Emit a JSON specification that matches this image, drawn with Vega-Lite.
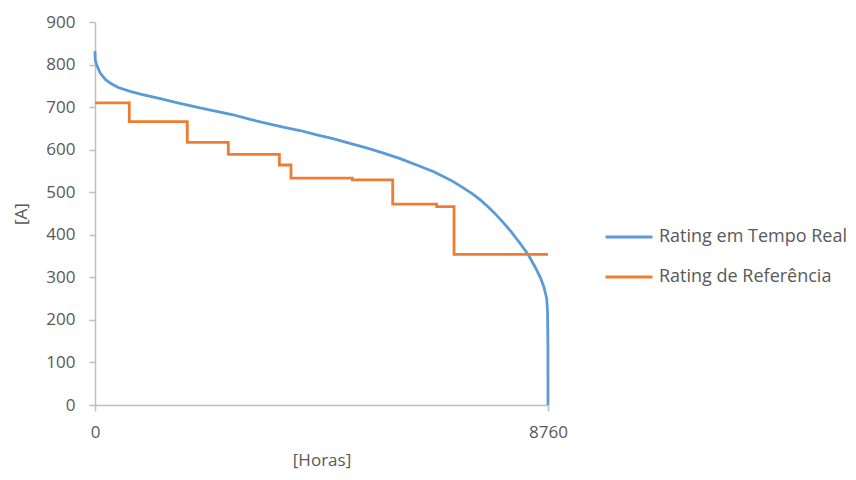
{
  "$schema": "https://vega.github.io/schema/vega-lite/v6.json",
  "width": 453,
  "height": 383,
  "autosize": {"type": "none"},
  "padding": {"left": 95, "top": 22, "right": 308, "bottom": 75},
  "background": "white",
  "config": {
    "view": {"stroke": null},
    "font": "Open Sans",
    "axis": {
      "labelFont": "Open Sans",
      "titleFont": "Open Sans",
      "labelColor": "#595959",
      "titleColor": "#595959",
      "labelFontSize": 17,
      "titleFontSize": 17,
      "titleFontWeight": "normal",
      "domainColor": "#bfbfbf",
      "tickColor": "#bfbfbf",
      "domainWidth": 1.5,
      "tickWidth": 1.5,
      "tickSize": 6,
      "grid": false
    },
    "legend": {
      "labelFont": "Open Sans",
      "labelFontSize": 18,
      "labelColor": "#595959",
      "labelLimit": 400
    }
  },
  "layer": [
    {
      "data": {
        "values": [
          {"hour": 0, "value": 832, "series": "Rating em Tempo Real"},
          {"hour": 5, "value": 810, "series": "Rating em Tempo Real"},
          {"hour": 30, "value": 800, "series": "Rating em Tempo Real"},
          {"hour": 100, "value": 780, "series": "Rating em Tempo Real"},
          {"hour": 200, "value": 765, "series": "Rating em Tempo Real"},
          {"hour": 300, "value": 756, "series": "Rating em Tempo Real"},
          {"hour": 450, "value": 746, "series": "Rating em Tempo Real"},
          {"hour": 680, "value": 737, "series": "Rating em Tempo Real"},
          {"hour": 900, "value": 730, "series": "Rating em Tempo Real"},
          {"hour": 1260, "value": 720, "series": "Rating em Tempo Real"},
          {"hour": 1600, "value": 710, "series": "Rating em Tempo Real"},
          {"hour": 2030, "value": 698, "series": "Rating em Tempo Real"},
          {"hour": 2670, "value": 682, "series": "Rating em Tempo Real"},
          {"hour": 3000, "value": 671, "series": "Rating em Tempo Real"},
          {"hour": 3320, "value": 662, "series": "Rating em Tempo Real"},
          {"hour": 3640, "value": 653, "series": "Rating em Tempo Real"},
          {"hour": 3965, "value": 645, "series": "Rating em Tempo Real"},
          {"hour": 4290, "value": 635, "series": "Rating em Tempo Real"},
          {"hour": 4600, "value": 626, "series": "Rating em Tempo Real"},
          {"hour": 4930, "value": 615, "series": "Rating em Tempo Real"},
          {"hour": 5250, "value": 604, "series": "Rating em Tempo Real"},
          {"hour": 5580, "value": 592, "series": "Rating em Tempo Real"},
          {"hour": 5900, "value": 579, "series": "Rating em Tempo Real"},
          {"hour": 6220, "value": 564, "series": "Rating em Tempo Real"},
          {"hour": 6550, "value": 548, "series": "Rating em Tempo Real"},
          {"hour": 6870, "value": 529, "series": "Rating em Tempo Real"},
          {"hour": 7100, "value": 512, "series": "Rating em Tempo Real"},
          {"hour": 7300, "value": 496, "series": "Rating em Tempo Real"},
          {"hour": 7450, "value": 482, "series": "Rating em Tempo Real"},
          {"hour": 7600, "value": 466, "series": "Rating em Tempo Real"},
          {"hour": 7750, "value": 448, "series": "Rating em Tempo Real"},
          {"hour": 7900, "value": 428, "series": "Rating em Tempo Real"},
          {"hour": 8050, "value": 407, "series": "Rating em Tempo Real"},
          {"hour": 8200, "value": 383, "series": "Rating em Tempo Real"},
          {"hour": 8380, "value": 353, "series": "Rating em Tempo Real"},
          {"hour": 8520, "value": 322, "series": "Rating em Tempo Real"},
          {"hour": 8610, "value": 300, "series": "Rating em Tempo Real"},
          {"hour": 8680, "value": 278, "series": "Rating em Tempo Real"},
          {"hour": 8736, "value": 250, "series": "Rating em Tempo Real"},
          {"hour": 8752, "value": 215, "series": "Rating em Tempo Real"},
          {"hour": 8759, "value": 130, "series": "Rating em Tempo Real"},
          {"hour": 8760, "value": 0, "series": "Rating em Tempo Real"}
        ]
      },
      "mark": {"type": "line", "strokeWidth": 2.8, "interpolate": "linear"},
      "encoding": {
        "x": {"field": "hour", "type": "quantitative"},
        "y": {"field": "value", "type": "quantitative"},
        "order": {"field": "hour"},
        "color": {"field": "series", "type": "nominal"}
      }
    },
    {
      "data": {
        "values": [
          {"hour": 0, "value": 710, "series": "Rating de Referência"},
          {"hour": 663, "value": 666, "series": "Rating de Referência"},
          {"hour": 1785, "value": 617, "series": "Rating de Referência"},
          {"hour": 2578, "value": 589, "series": "Rating de Referência"},
          {"hour": 3565, "value": 564, "series": "Rating de Referência"},
          {"hour": 3790, "value": 533, "series": "Rating de Referência"},
          {"hour": 4976, "value": 529, "series": "Rating de Referência"},
          {"hour": 5757, "value": 472, "series": "Rating de Referência"},
          {"hour": 6608, "value": 466, "series": "Rating de Referência"},
          {"hour": 6943, "value": 354, "series": "Rating de Referência"},
          {"hour": 8760, "value": 354, "series": "Rating de Referência"}
        ]
      },
      "mark": {"type": "line", "strokeWidth": 2.8, "interpolate": "step-after"},
      "encoding": {
        "x": {"field": "hour", "type": "quantitative"},
        "y": {"field": "value", "type": "quantitative"},
        "color": {"field": "series", "type": "nominal"}
      }
    }
  ],
  "resolve": {"scale": {"color": "shared"}},
  "encoding": {
    "x": {
      "field": "hour",
      "type": "quantitative",
      "scale": {"domain": [0, 8760], "nice": false, "zero": false},
      "axis": {"values": [0, 8760], "format": "d", "title": "[Horas]", "labelPadding": 13, "titlePadding": 12, "labelFlush": false}
    },
    "y": {
      "field": "value",
      "type": "quantitative",
      "scale": {"domain": [0, 900], "nice": false},
      "axis": {"values": [0, 100, 200, 300, 400, 500, 600, 700, 800, 900], "title": "[A]", "labelPadding": 14, "titlePadding": 15}
    },
    "color": {
      "field": "series",
      "type": "nominal",
      "scale": {"domain": ["Rating em Tempo Real", "Rating de Referência"], "range": ["#5B9BD5", "#ED7D31"]},
      "legend": {
        "title": null,
        "orient": "none",
        "legendX": 509,
        "legendY": 190,
        "symbolType": "stroke",
        "symbolSize": 2200,
        "symbolStrokeWidth": 2.8,
        "labelOffset": 5,
        "rowPadding": 6,
        "labelLimit": 400
      }
    }
  }
}
